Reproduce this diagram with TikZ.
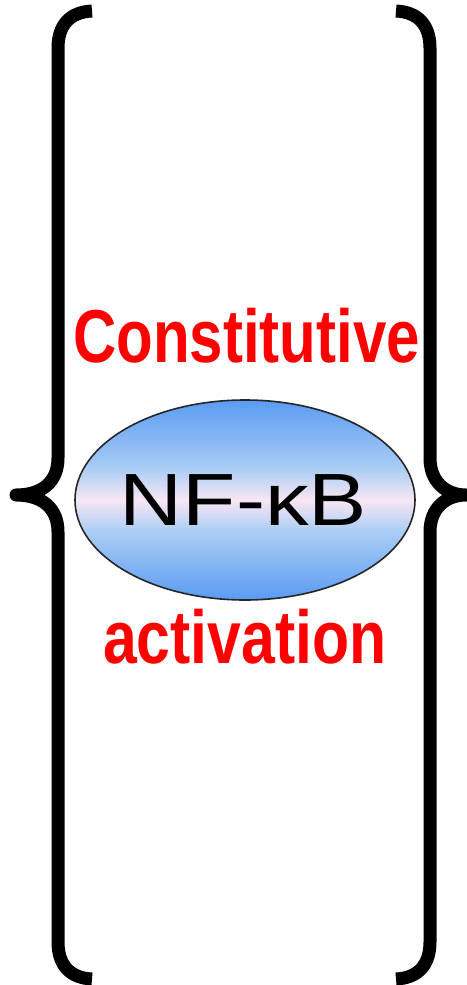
\documentclass[tikz,border=0pt]{standalone}
\usepackage{fontspec}
\setmainfont{Liberation Sans}
\usetikzlibrary{shapes.geometric}
\definecolor{nfblue}{HTML}{5A9BF2}
\definecolor{nflight}{HTML}{A9CDF4}
\definecolor{nfpink}{HTML}{F8E6F4}
\definecolor{txtred}{HTML}{FF0000}
\pgfdeclareverticalshading{nfshade}{100bp}{
  color(0bp)=(nfblue); color(25bp)=(nfblue); color(42bp)=(nflight);
  color(50bp)=(nfpink); color(58bp)=(nflight); color(75bp)=(nfblue); color(100bp)=(nfblue)}
\begin{document}
\begin{tikzpicture}[x=1pt,y=-1pt,
  bracestyle/.style={line width=13pt, line cap=butt, line join=round, black},
  redlabel/.style={anchor=base, inner sep=0pt, text=txtred, font=\fontsize{75}{75}\selectfont\bfseries},
  bubble/.style={ellipse, draw=black!85, line width=1.6pt, minimum width=340pt, minimum height=200pt, inner sep=0pt,
    shading=nfshade}
]
\useasboundingbox (0,0) rectangle (466,985);
% left brace
\draw[bracestyle] (92,11) .. controls (70,12) and (58,25) .. (58,48)
  -- (58,458) .. controls (58,482) and (42,495) .. (16,495)
  .. controls (42,495) and (58,508) .. (58,532)
  -- (58,942) .. controls (58,965) and (70,978) .. (92,979);
% right brace
\draw[bracestyle] (396,11) .. controls (418,12) and (430,25) .. (430,48)
  -- (430,458) .. controls (430,482) and (446,495) .. (466,495)
  .. controls (446,495) and (430,508) .. (430,532)
  -- (430,942) .. controls (430,965) and (418,978) .. (396,979);
% ellipse
\node[bubble] (nfkb) at (245,500) {};
\node[anchor=base, inner sep=0pt, font=\fontsize{74}{74}\selectfont] (nftext) at (243.5,525)
  {\scalebox{1.18}[1]{NF-κB}};
% labels
\node[redlabel] (constit) at (246.5,362) {\scalebox{0.80}[1]{Constitutive}};
\node[redlabel] (activ) at (245,663) {\scalebox{0.81}[1]{activation}};
\end{tikzpicture}
\end{document}
